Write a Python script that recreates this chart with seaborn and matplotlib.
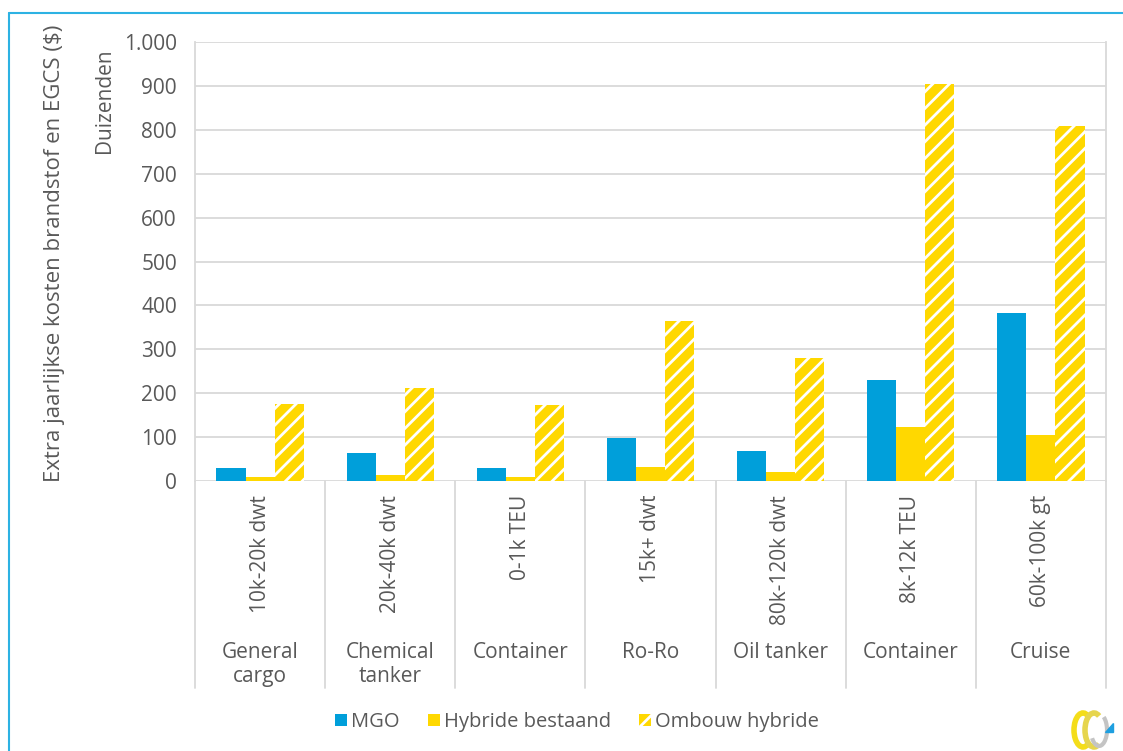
import matplotlib
matplotlib.use("Agg")
import matplotlib.pyplot as plt
import matplotlib.transforms as mtransforms
from matplotlib.patches import Patch, Arc, Polygon
from matplotlib.lines import Line2D
from matplotlib.ticker import FuncFormatter
import seaborn as sns
import pandas as pd

# data (duizenden $)
groups = ["General\ncargo", "Chemical\ntanker", "Container", "Ro-Ro", "Oil tanker", "Container", "Cruise"]
sizes = ["10k-20k dwt", "20k-40k dwt", "0-1k TEU", "15k+ dwt", "80k-120k dwt", "8k-12k TEU", "60k-100k gt"]
series = ["MGO", "Hybride bestaand", "Ombouw hybride"]
mgo = [30, 64, 29, 99, 69, 230, 383]
hybride_bestaand = [8, 13, 8, 31, 21, 124, 104]
ombouw_hybride = [175, 212, 173, 364, 281, 904, 809]

blue = "#009FDA"
yellow = "#FFD800"
text_col = "#595959"
grid_col = "#D9D9D9"

rows = []
for vals, name in zip([mgo, hybride_bestaand, ombouw_hybride], series):
    for s, v in zip(sizes, vals):
        rows.append({"size": s, "serie": name, "waarde": v})
df = pd.DataFrame(rows)

sns.set_style("white")
plt.rcParams["font.family"] = ["Open Sans", "DejaVu Sans"]
plt.rcParams["hatch.linewidth"] = 2.0

fig = plt.figure(figsize=(11.23, 7.51), dpi=100)
ax = fig.add_axes([195 / 1123, 1 - 481 / 751, 911 / 1123, 439 / 751])

sns.barplot(data=df, x="size", y="waarde", hue="serie", order=sizes, hue_order=series,
            palette=[blue, yellow, yellow], width=0.67, linewidth=0, saturation=1,
            legend=False, ax=ax)

# gestreepte balken voor ombouw hybride
for bar in ax.containers[2]:
    bar.set_facecolor(yellow)
    bar.set_edgecolor("white")
    bar.set_linewidth(0)
    bar.set_hatch("//")

ax.set_ylim(0, 1000)
ax.set_xlim(-0.5, len(sizes) - 0.5)
ax.set_yticks(range(0, 1001, 100))
ax.yaxis.set_major_formatter(FuncFormatter(lambda v, p: f"{int(v):,}".replace(",", ".")))
ax.grid(axis="y", color=grid_col, linewidth=1.3)
ax.set_axisbelow(True)
for side in ["top", "bottom"]:
    ax.spines[side].set_visible(False)
for side in ["left", "right"]:
    ax.spines[side].set_color(grid_col)
    ax.spines[side].set_linewidth(1.3)
ax.set_xlabel("")
ax.set_ylabel("")
ax.tick_params(axis="y", length=0, pad=13, labelsize=15, labelcolor=text_col)
ax.tick_params(axis="x", length=0, pad=10, labelsize=15, labelcolor=text_col)
ax.set_xticks(range(len(sizes)))
ax.set_xticklabels(sizes, rotation=90, va="top")

# scheidingslijnen en groepslabels onder de as
trans = mtransforms.blended_transform_factory(ax.transData, ax.transAxes)
for i in range(len(sizes) + 1):
    ax.plot([i - 0.5, i - 0.5], [0, -0.4715], transform=trans, color=grid_col,
            linewidth=1.3, clip_on=False)
for i, g in enumerate(groups):
    ax.text(i, -0.366, g, transform=trans, ha="center", va="top", fontsize=15,
            color=text_col, linespacing=1.2)

fig.text(55 / 1123, 1 - 253 / 751, "Extra jaarlijkse kosten brandstof en EGCS ($)",
         rotation=90, ha="center", va="center", fontsize=16, color=text_col)
fig.text(104 / 1123, 1 - 48 / 751, "Duizenden", rotation=90, ha="center", va="top",
         fontsize=15, color=text_col)

handles = [Patch(facecolor=blue, linewidth=0),
           Patch(facecolor=yellow, linewidth=0),
           Patch(facecolor=yellow, edgecolor="white", hatch="//", linewidth=0)]
fig.legend(handles, series, loc="center", bbox_to_anchor=(577 / 1123, 1 - 722 / 751), ncol=3,
           frameon=False, fontsize=14.5, labelcolor=text_col, handlelength=0.6,
           handleheight=0.6, handletextpad=0.2, columnspacing=1.4)

# blauwe kader
fig.add_artist(Line2D([9 / 1123, 1], [1 - 13 / 751, 1 - 13 / 751], color="#2DB2E3", linewidth=1.5))
fig.add_artist(Line2D([9 / 1123, 9 / 1123], [0, 1 - 13 / 751], color="#2DB2E3", linewidth=1.5))

# logo
lax = fig.add_axes([1068 / 1123, 1 - 750 / 751, 50 / 1123, 42 / 751])
lax.set_xlim(0, 50)
lax.set_ylim(0, 42)
lax.axis("off")
lax.add_patch(Arc((15, 20), 18, 34, theta1=70, theta2=290, color="#F4DD1A", linewidth=4))
lax.add_patch(Arc((26, 20), 18, 34, theta1=70, theta2=290, color="#E6D54E", linewidth=4))
lax.add_patch(Arc((31, 20), 16, 32, theta1=230, theta2=430, color="#C4C4C4", linewidth=3))
lax.add_patch(Polygon([[37, 18], [45, 18], [45, 27]], closed=True, color="#1E9FE0"))

fig.savefig("out.png", dpi=100)
